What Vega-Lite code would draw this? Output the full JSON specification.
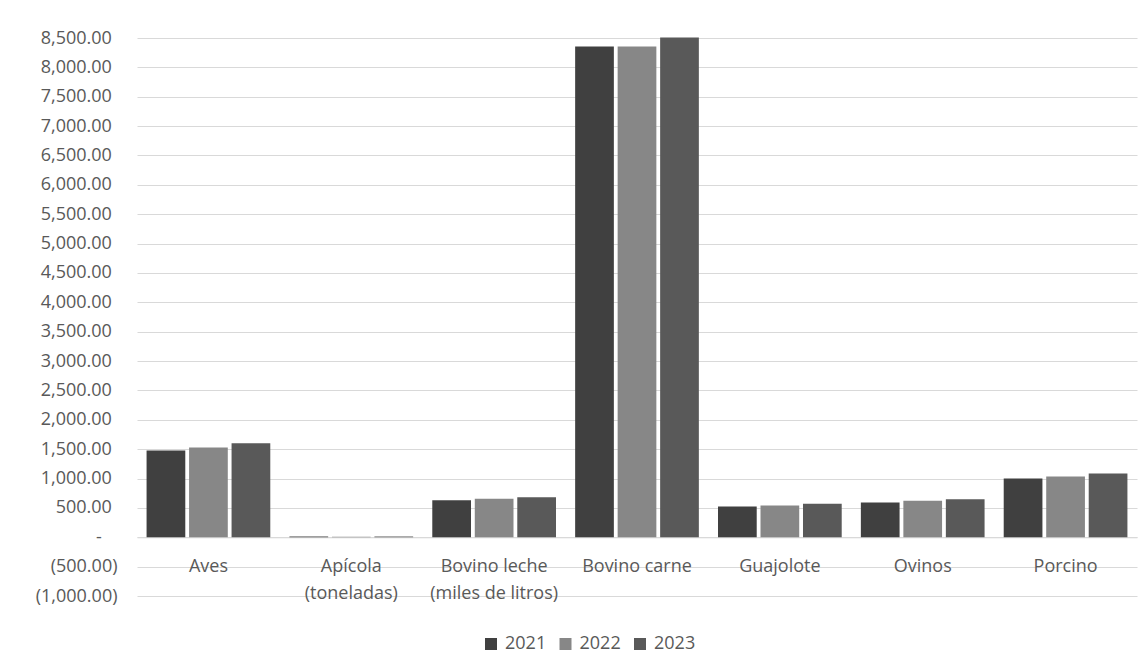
{
  "$schema": "https://vega.github.io/schema/vega-lite/v6.json",
  "autosize": {"type": "none"},
  "width": 1000,
  "height": 558,
  "padding": {"left": 137, "top": 38, "right": 9, "bottom": 75},
  "background": "white",
  "config": {
    "view": {"stroke": null},
    "font": "Open Sans",
    "axis": {"labelFont": "Open Sans", "labelColor": "#595959", "labelFontSize": 18, "titleFontSize": 18},
    "legend": {"labelFont": "Open Sans", "labelColor": "#595959", "labelFontSize": 18}
  },
  "data": {
    "values": [
      {"categoria": "Aves", "anio": "2021", "valor": 1478},
      {"categoria": "Aves", "anio": "2022", "valor": 1528},
      {"categoria": "Aves", "anio": "2023", "valor": 1602},
      {"categoria": "Apícola (toneladas)", "anio": "2021", "valor": 12},
      {"categoria": "Apícola (toneladas)", "anio": "2022", "valor": 10},
      {"categoria": "Apícola (toneladas)", "anio": "2023", "valor": 11},
      {"categoria": "Bovino leche (miles de litros)", "anio": "2021", "valor": 630},
      {"categoria": "Bovino leche (miles de litros)", "anio": "2022", "valor": 654},
      {"categoria": "Bovino leche (miles de litros)", "anio": "2023", "valor": 682},
      {"categoria": "Bovino carne", "anio": "2021", "valor": 8357},
      {"categoria": "Bovino carne", "anio": "2022", "valor": 8357},
      {"categoria": "Bovino carne", "anio": "2023", "valor": 8510},
      {"categoria": "Guajolote", "anio": "2021", "valor": 523},
      {"categoria": "Guajolote", "anio": "2022", "valor": 540},
      {"categoria": "Guajolote", "anio": "2023", "valor": 569},
      {"categoria": "Ovinos", "anio": "2021", "valor": 591},
      {"categoria": "Ovinos", "anio": "2022", "valor": 620},
      {"categoria": "Ovinos", "anio": "2023", "valor": 648},
      {"categoria": "Porcino", "anio": "2021", "valor": 1000},
      {"categoria": "Porcino", "anio": "2022", "valor": 1034},
      {"categoria": "Porcino", "anio": "2023", "valor": 1085}
    ]
  },
  "mark": {"type": "bar"},
  "encoding": {
    "x": {
      "field": "categoria",
      "type": "nominal",
      "sort": null,
      "scale": {"paddingInner": 0.134, "paddingOuter": 0.067},
      "axis": {
        "title": null,
        "labelAngle": 0,
        "offset": -58.7,
        "ticks": false,
        "domain": true,
        "domainColor": "#d9d9d9",
        "domainWidth": 1,
        "labelPadding": 20,
        "labelBaseline": "top",
        "labelLineHeight": 27,
        "labelLimit": 200,
        "labelExpr": "indexof(datum.label, ' (') > 0 ? [substring(datum.label, 0, indexof(datum.label, ' (')), substring(datum.label, indexof(datum.label, ' (') + 1)] : datum.label"
      }
    },
    "xOffset": {
      "field": "anio",
      "type": "nominal",
      "scale": {"paddingInner": 0.089, "paddingOuter": 0}
    },
    "y": {
      "field": "valor",
      "type": "quantitative",
      "scale": {"domain": [-1000, 8500], "nice": false, "zero": true},
      "axis": {
        "title": null,
        "values": [-1000, -500, 0, 500, 1000, 1500, 2000, 2500, 3000, 3500, 4000, 4500, 5000, 5500, 6000, 6500, 7000, 7500, 8000, 8500],
        "domain": false,
        "ticks": false,
        "grid": true,
        "gridColor": "#d9d9d9",
        "gridWidth": 1.2,
        "labelPadding": {"condition": [{"test": "datum.value < 0", "value": 20}, {"test": "datum.value == 0", "value": 35.6}], "value": 25.6},
        "labelExpr": "datum.value == 0 ? '-' : (datum.value < 0 ? '(' + format(-datum.value, ',.2f') + ')' : format(datum.value, ',.2f'))"
      }
    },
    "color": {
      "field": "anio",
      "type": "nominal",
      "scale": {"domain": ["2021", "2022", "2023"], "range": ["#404040", "#878787", "#595959"]},
      "legend": {
        "title": null,
        "orient": "none",
        "direction": "horizontal",
        "legendX": 345,
        "legendY": 597,
        "padding": 0,
        "symbolType": "square",
        "symbolSize": 144,
        "symbolStrokeWidth": 0,
        "labelOffset": 5,
        "columnPadding": 9.5
      }
    }
  }
}
